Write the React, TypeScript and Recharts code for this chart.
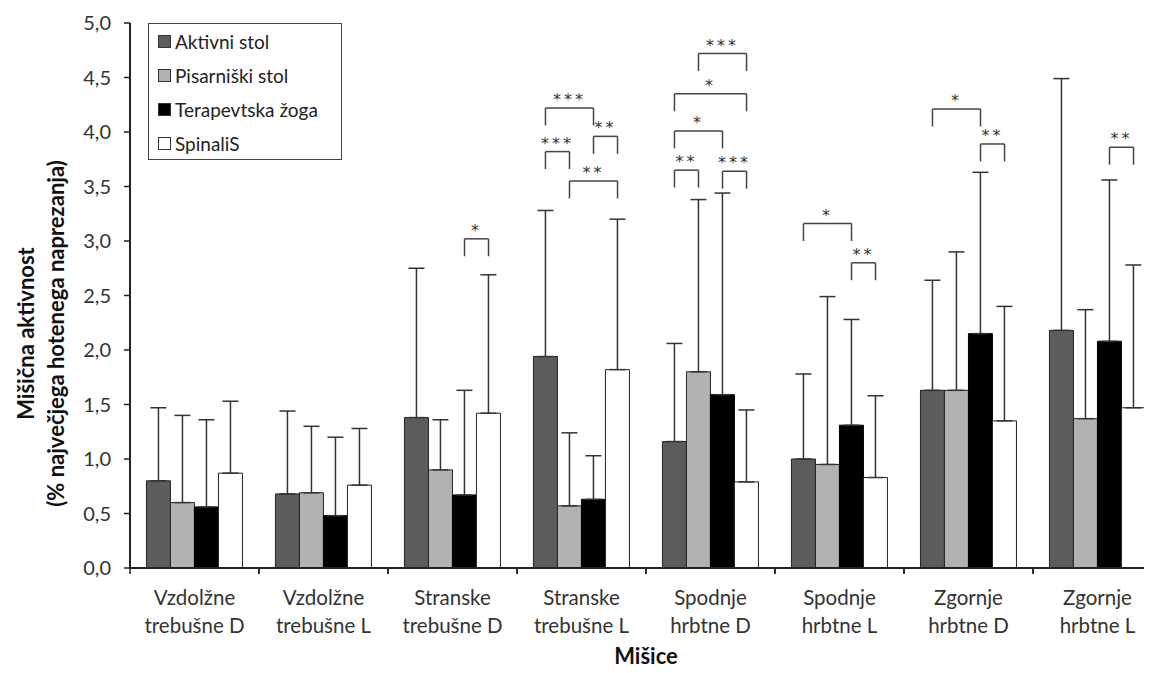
import {
  BarChart,
  Bar,
  XAxis,
  YAxis,
  ErrorBar,
  Legend,
  ReferenceLine,
} from "recharts";

const categories = [
  "Vzdolžne|trebušne D",
  "Vzdolžne|trebušne L",
  "Stranske|trebušne D",
  "Stranske|trebušne L",
  "Spodnje|hrbtne D",
  "Spodnje|hrbtne L",
  "Zgornje|hrbtne D",
  "Zgornje|hrbtne L",
];

const seriesNames = ["Aktivni stol", "Pisarniški stol", "Terapevtska žoga", "SpinaliS"];

const aktivni = [0.8, 0.68, 1.38, 1.94, 1.16, 1.0, 1.63, 2.18];
const aktivniSd = [0.67, 0.76, 1.37, 1.34, 0.9, 0.78, 1.01, 2.31];

const pisarniski = [0.6, 0.69, 0.9, 0.57, 1.8, 0.95, 1.63, 1.37];
const pisarniskiSd = [0.8, 0.61, 0.46, 0.67, 1.58, 1.54, 1.27, 1.0];

const zoga = [0.56, 0.48, 0.67, 0.63, 1.59, 1.31, 2.15, 2.08];
const zogaSd = [0.8, 0.72, 0.96, 0.4, 1.85, 0.97, 1.48, 1.48];

const spinalis = [0.87, 0.76, 1.42, 1.82, 0.79, 0.83, 1.35, 1.47];
const spinalisSd = [0.66, 0.52, 1.27, 1.38, 0.66, 0.75, 1.05, 1.31];

const yTicks = [0, 0.5, 1, 1.5, 2, 2.5, 3, 3.5, 4, 4.5, 5];

// significance brackets: category index, bar from, bar to, height, stars
const brackets = [
  { cat: 2, from: 2, to: 3, y: 3.02, text: "*" },
  { cat: 3, from: 0, to: 2, y: 4.22, text: "***" },
  { cat: 3, from: 2, to: 3, y: 3.96, text: "**" },
  { cat: 3, from: 0, to: 1, y: 3.82, text: "***" },
  { cat: 3, from: 1, to: 3, y: 3.55, text: "**" },
  { cat: 4, from: 1, to: 3, y: 4.72, text: "***" },
  { cat: 4, from: 0, to: 3, y: 4.35, text: "*" },
  { cat: 4, from: 0, to: 2, y: 4.01, text: "*" },
  { cat: 4, from: 0, to: 1, y: 3.65, text: "**" },
  { cat: 4, from: 2, to: 3, y: 3.64, text: "***" },
  { cat: 5, from: 0, to: 2, y: 3.16, text: "*" },
  { cat: 5, from: 2, to: 3, y: 2.8, text: "**" },
  { cat: 6, from: 0, to: 2, y: 4.21, text: "*" },
  { cat: 6, from: 2, to: 3, y: 3.89, text: "**" },
  { cat: 7, from: 2, to: 3, y: 3.86, text: "**" },
];

const data = categories.map((name, i) => ({
  name,
  pos: i + 0.5,
  aktivni: aktivni[i],
  aktivniErr: [0, aktivniSd[i]],
  pisarniski: pisarniski[i],
  pisarniskiErr: [0, pisarniskiSd[i]],
  zoga: zoga[i],
  zogaErr: [0, zogaSd[i]],
  spinalis: spinalis[i],
  spinalisErr: [0, spinalisSd[i]],
}));

const FONT = "Lato, 'Open Sans', sans-serif";
const GAP = 0.1275;
const BAR = (1 - 2 * GAP) / 4;
const LEG = 0.16;

const barCenter = (cat: number, j: number) => cat + GAP + (j + 0.5) * BAR;

function CategoryTick(props: any) {
  const { x, y, payload } = props;
  const half = payload && payload.offset ? payload.offset : 64.5;
  const [l1, l2] = String(payload.value).split("|");
  return (
    <g>
      <line x1={x - half} x2={x - half} y1={y} y2={y + 6} stroke="#222" strokeWidth={1.5} />
      <line x1={x + half} x2={x + half} y1={y} y2={y + 6} stroke="#222" strokeWidth={1.5} />
      <text x={x} y={y} textAnchor="middle" fill="#333" fontSize={20.5} fontFamily={FONT}>
        <tspan x={x} dy={37}>{l1}</tspan>
        <tspan x={x} dy={28}>{l2}</tspan>
      </text>
    </g>
  );
}

function renderLegend(props: any) {
  const payload = [...(props.payload || [])].sort(
    (a: any, b: any) => seriesNames.indexOf(a.value) - seriesNames.indexOf(b.value)
  );
  return (
    <div
      style={{
        border: "1px solid #444",
        background: "#fff",
        width: 194,
        height: 137,
        boxSizing: "border-box",
        paddingTop: 0,
        paddingLeft: 9,
        fontFamily: FONT,
        fontSize: 19,
        color: "#222",
      }}
    >
      {payload.map((entry: any) => (
        <div key={entry.value} style={{ height: 34, display: "flex", alignItems: "center" }}>
          <span
            style={{
              display: "inline-block",
              width: 11,
              height: 11,
              background: entry.color,
              border: "1px solid #333",
              marginRight: 4,
            }}
          />
          {entry.value}
        </div>
      ))}
    </div>
  );
}

function YTitle(props: any) {
  const vb = props.viewBox;
  const cy = vb.y + vb.height / 2 + 38;
  return (
    <g fontFamily={FONT} fontWeight="bold" fontSize={22} fill="#111">
      <text x={25} y={cy} textAnchor="middle" dominantBaseline="central" transform={`rotate(-90 25 ${cy})`}>
        Mišična aktivnost
      </text>
      <text x={55} y={cy} textAnchor="middle" dominantBaseline="central" transform={`rotate(-90 55 ${cy})`}>
        (% največjega hotenega naprezanja)
      </text>
    </g>
  );
}

export default function App() {
  const bracketColor = "#444";
  return (
    <div style={{ margin: -8, width: 1152, height: 673, overflow: "hidden", background: "#fff" }}>
      <BarChart
        width={1170}
        height={673}
        data={data}
        margin={{ top: 23, right: 8, left: 0, bottom: 0 }}
        barCategoryGap="12.75%"
        barGap={0}
      >
        <XAxis xAxisId="num" type="number" dataKey="pos" domain={[0, 8]} allowDataOverflow hide />
        <XAxis
          xAxisId="cat"
          dataKey="name"
          interval={0}
          height={105}
          tickLine={false}
          tickSize={0}
          tickMargin={0}
          axisLine={{ stroke: "#222", strokeWidth: 2 }}
          tick={<CategoryTick />}
          label={{
            value: "Mišice",
            position: "insideTop",
            offset: 80,
            fontSize: 22,
            fontWeight: "bold",
            fill: "#111",
            fontFamily: FONT,
          }}
        />
        <YAxis
          width={130}
          domain={[0, 5]}
          ticks={yTicks}
          tickSize={6}
          tickMargin={13}
          interval={0}
          tickFormatter={(v: number) => v.toFixed(1).replace(".", ",")}
          tick={{ fill: "#333", fontSize: 20, fontFamily: FONT }}
          axisLine={{ stroke: "#222", strokeWidth: 2 }}
          tickLine={{ stroke: "#222", strokeWidth: 1.5 }}
          label={{ content: (p: any) => <YTitle {...p} /> }}
        />
        <Legend
          layout="vertical"
          align="center"
          verticalAlign="middle"
          wrapperStyle={{ left: 148, top: 23, width: 194, height: 137 }}
          content={renderLegend}
        />
        <Bar xAxisId="cat" dataKey="aktivni" name={seriesNames[0]} fill="#5c5c5c" stroke="#222" strokeWidth={1} legendType="square" isAnimationActive={false}>
          <ErrorBar dataKey="aktivniErr" direction="y" width={8} stroke="#333" strokeWidth={1.5} />
        </Bar>
        <Bar xAxisId="cat" dataKey="pisarniski" name={seriesNames[1]} fill="#b2b2b2" stroke="#222" strokeWidth={1} legendType="square" isAnimationActive={false}>
          <ErrorBar dataKey="pisarniskiErr" direction="y" width={8} stroke="#333" strokeWidth={1.5} />
        </Bar>
        <Bar xAxisId="cat" dataKey="zoga" name={seriesNames[2]} fill="#000000" stroke="#000" strokeWidth={1} legendType="square" isAnimationActive={false}>
          <ErrorBar dataKey="zogaErr" direction="y" width={8} stroke="#333" strokeWidth={1.5} />
        </Bar>
        <Bar xAxisId="cat" dataKey="spinalis" name={seriesNames[3]} fill="#ffffff" stroke="#222" strokeWidth={1} legendType="square" isAnimationActive={false}>
          <ErrorBar dataKey="spinalisErr" direction="y" width={8} stroke="#333" strokeWidth={1.5} />
        </Bar>
        {brackets.map((b, i) => {
          const x1 = barCenter(b.cat, b.from);
          const x2 = barCenter(b.cat, b.to);
          return [
            <ReferenceLine
              key={`h${i}`}
              xAxisId="num"
              segment={[{ x: x1, y: b.y }, { x: x2, y: b.y }]}
              stroke={bracketColor}
              strokeWidth={1.5}
              ifOverflow="visible"
              label={{
                value: b.text,
                position: "top",
                offset: 3,
                fontSize: 16,
                fill: "#333",
                letterSpacing: 3,
                fontFamily: "'DejaVu Sans', sans-serif",
              }}
            />,
            <ReferenceLine
              key={`l${i}`}
              xAxisId="num"
              segment={[{ x: x1, y: b.y }, { x: x1, y: b.y - LEG }]}
              stroke={bracketColor}
              strokeWidth={1.5}
              ifOverflow="visible"
            />,
            <ReferenceLine
              key={`r${i}`}
              xAxisId="num"
              segment={[{ x: x2, y: b.y }, { x: x2, y: b.y - LEG }]}
              stroke={bracketColor}
              strokeWidth={1.5}
              ifOverflow="visible"
            />,
          ];
        })}
      </BarChart>
    </div>
  );
}
